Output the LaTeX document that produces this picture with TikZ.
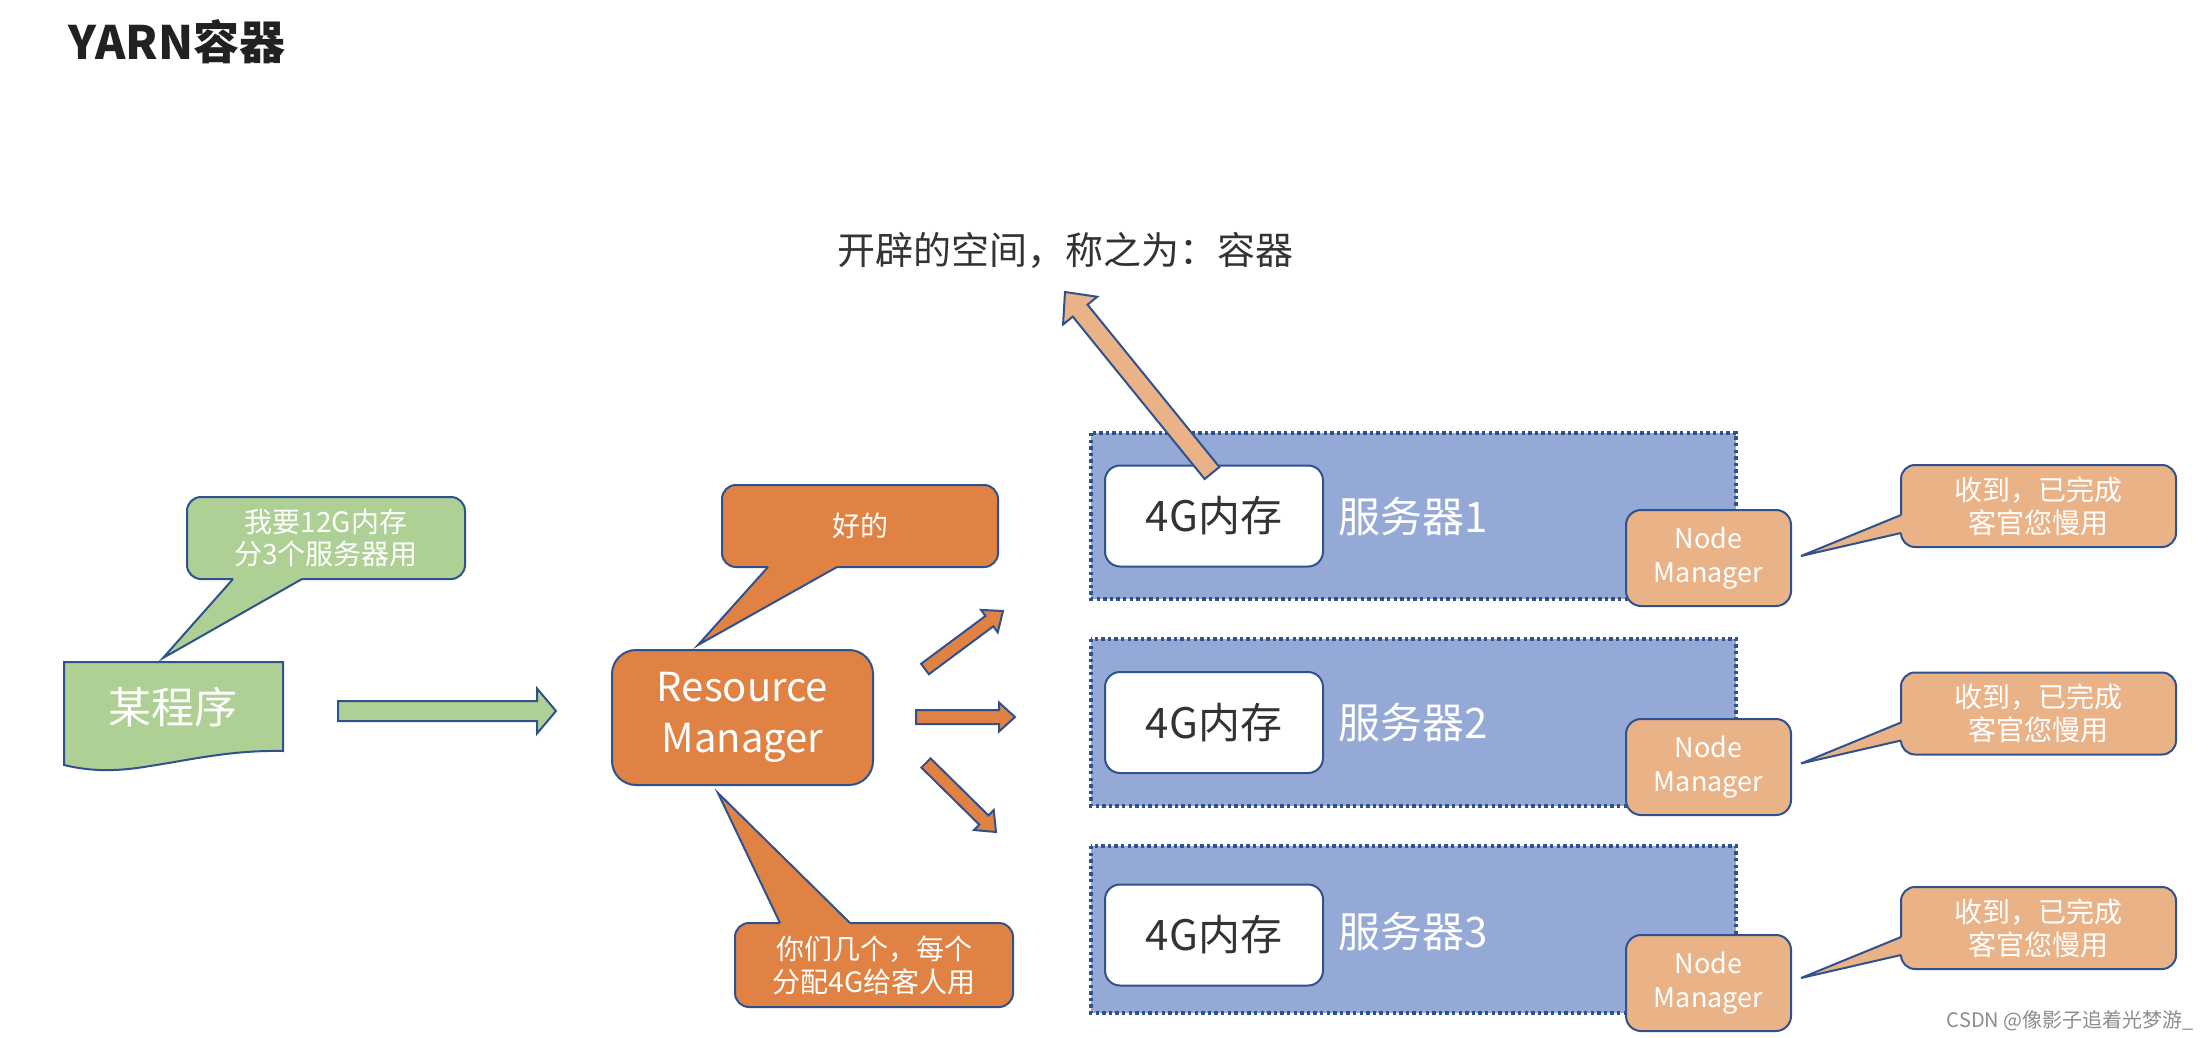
\documentclass[tikz,border=0pt]{standalone}
\usepackage{fontspec}
\setmainfont{Noto Sans CJK SC}
\usetikzlibrary{calc}
\definecolor{bord}{HTML}{2F528F}
\definecolor{gfill}{HTML}{AFD095}
\definecolor{ofill}{HTML}{DF8244}
\definecolor{lofill}{HTML}{EAB287}
\definecolor{bfill}{HTML}{95A9D6}
\definecolor{dtext}{HTML}{333333}
\newcommand\fs[2]{\fontsize{#1}{#2}\selectfont}
% block arrow: style, tail, tip, half shaft, half head, head length
\newcommand\blockarr[6]{%
  \coordinate (ba-b) at ($(#3)!#6!(#2)$);
  \draw[#1] ($(#2)!#4!90:(#3)$) -- ($(ba-b)!#4!90:(#3)$) -- ($(ba-b)!#5!90:(#3)$) -- (#3)
    -- ($(ba-b)!#5!-90:(#3)$) -- ($(ba-b)!#4!-90:(#3)$) -- ($(#2)!#4!-90:(#3)$) -- cycle;}
% callout pointer: fill colour, base1, base2, tip, inward shift
\newcommand\callptr[5]{%
  \fill[#1] (#2) -- (#4) -- (#3) -- ($(#3)+#5$) -- ($(#2)+#5$) -- cycle;
  \draw[bord, line width=2pt, line join=miter] (#2) -- (#4) -- (#3);}
\begin{document}
\begin{tikzpicture}[x=1pt,y=-1pt,
  rbox/.style={draw=bord, line width=2pt, rounded corners=#1, inner sep=0pt, align=center, text=white},
  rbox/.default=14pt,
  barrow/.style={draw=bord, line width=2pt, line join=miter, fill=#1}]
\useasboundingbox (0,0) rectangle (2208,1038);
\fill[white] (0,0) rectangle (2208,1038);

% title
\node[anchor=west, inner sep=0pt, font=\fs{46}{52}\bfseries, text=black!87] (title) at (68,42) {YARN容器};
\node[inner sep=0pt, font=\fs{38}{44}, text=dtext] (label) at (1065,250) {开辟的空间，称之为：容器};

% program document
\draw[bord, line width=2pt, fill=gfill] (64,662) -- (283,662) -- (283,751)
  .. controls (230,750) and (190,760) .. (150,766)
  .. controls (110,773) and (85,770) .. (64,765) -- cycle;
\node[inner sep=0pt, font=\fs{43}{48}, text=white] (prog) at (173,707) {某程序};

% green callout
\node[rbox, fill=gfill, minimum width=278pt, minimum height=82pt, font=\fs{28}{32}] (ask) at (326,538) {我要12G内存\\分3个服务器用};
\coordinate (askb1) at (233,579); \coordinate (askb2) at (302,579); \coordinate (asktip) at (163,658);
\callptr{gfill}{askb1}{askb2}{asktip}{(0,-5)}

% green arrow
\coordinate (gtail) at (338,711); \coordinate (gtip) at (556,711);
\blockarr{barrow=gfill}{gtail}{gtip}{10pt}{22.5pt}{19pt}

% resource manager
\node[rbox=24pt, fill=ofill, minimum width=261pt, minimum height=135pt, font=\fs{40}{51}] (rm) at (742.5,717.5) {Resource\\Manager};

% ok callout
\node[rbox, fill=ofill, minimum width=276pt, minimum height=82pt, font=\fs{28}{32}] (ok) at (860,526) {好的};
\coordinate (okb1) at (768,567); \coordinate (okb2) at (837,567); \coordinate (oktip) at (698,645);
\callptr{ofill}{okb1}{okb2}{oktip}{(0,-5)}

% bottom callout
\node[rbox, fill=ofill, minimum width=278pt, minimum height=84pt, font=\fs{28}{33}] (give) at (874,965) {你们几个，每个\\分配4G给客人用};
\coordinate (giveb1) at (780,923); \coordinate (giveb2) at (850,923); \coordinate (givetip) at (718,793);
\callptr{ofill}{giveb1}{giveb2}{givetip}{(0,5)}

% three orange arrows
\coordinate (a1t) at (925,669); \coordinate (a1h) at (1003,611);
\coordinate (a2t) at (916,717); \coordinate (a2h) at (1015,717);
\coordinate (a3t) at (926,763); \coordinate (a3h) at (996,832);
\blockarr{barrow=ofill}{a1t}{a1h}{6.5pt}{14pt}{17pt}
\blockarr{barrow=ofill}{a2t}{a2h}{7pt}{14.5pt}{16pt}
\blockarr{barrow=ofill}{a3t}{a3h}{6.5pt}{14pt}{17pt}

% servers
\foreach \st/\sb/\wb/\sy/\nm/\cl/\n in {433/599/516/517/558/506/1, 639/806/722.5/723/767/713.5/2, 846/1013/935/932/983/928/3}{
  \fill[bfill] (1091,\st) rectangle (1736,\sb);
  \draw[bord, line width=3.6pt, dash pattern=on 3.4pt off 3.2pt] (1091,\st) rectangle (1736,\sb);
  \node[rbox=15pt, fill=white, text=dtext, minimum width=218pt, minimum height=101pt, font=\fs{42}{48}] (mem\n) at (1214,\wb) {4G内存};
  \node[inner sep=0pt, text=white, font=\fs{42}{48}] (srv\n) at (1413,\sy) {服务器\n};
  \node[rbox=15pt, fill=lofill, minimum width=165pt, minimum height=96pt, font=\fs{27}{34}] (nm\n) at (1708.5,\nm) {Node\\Manager};
  \node[rbox, fill=lofill, minimum width=275pt, minimum height=82pt, font=\fs{28}{33}] (rc\n) at (2038.5,\cl) {收到，已完成\\客官您慢用};
  \coordinate (rcb1\n) at (1901,\cl+9); \coordinate (rcb2\n) at (1901,\cl+27); \coordinate (rctip\n) at (1801,\cl+50);
  \callptr{lofill}{rcb1\n}{rcb2\n}{rctip\n}{(5,0)}
}

% container arrow
\coordinate (uptail) at (1212,473); \coordinate (uptip) at (1065,292);
\blockarr{barrow=lofill}{uptail}{uptip}{9.5pt}{22pt}{24pt}

% watermark
\node[anchor=east, inner sep=0pt, font=\fs{20}{24}, text=black!45] (wm) at (2194,1021) {CSDN @像影子追着光梦游\_};
\end{tikzpicture}
\end{document}
